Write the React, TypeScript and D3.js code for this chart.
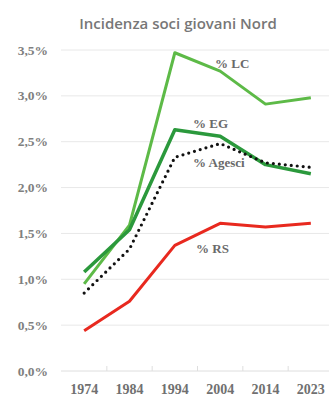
import React from "react";
import * as d3 from "d3";

const years = ["1974", "1984", "1994", "2004", "2014", "2023"];
const lc = [0.95, 1.59, 3.47, 3.27, 2.91, 2.98];
const eg = [1.08, 1.54, 2.63, 2.56, 2.25, 2.15];
const agesci = [0.85, 1.33, 2.33, 2.48, 2.27, 2.22];
const rs = [0.44, 0.76, 1.37, 1.61, 1.57, 1.61];
const yTicks = [0, 0.5, 1.0, 1.5, 2.0, 2.5, 3.0, 3.5];

const W = 329;
const H = 398;

export default function App() {
  const x = d3.scaleBand<string>().domain(years).range([61.5, 333.5]).padding(0);
  const y = d3.scaleLinear().domain([0, 3.5]).range([371, 50]);
  const cx = (i: number) => (x(years[i]) as number) + x.bandwidth() / 2;
  const line = d3
    .line<number>()
    .x((_, i) => cx(i))
    .y((d) => y(d));

  const fmt = (v: number) => v.toFixed(1).replace(".", ",") + "%";
  const serif = "'Liberation Serif', 'DejaVu Serif', serif";
  const sans = "'Open Sans', 'Noto Sans', sans-serif";

  const labels = [
    { text: "% LC", x: 215, y: 63 },
    { text: "% EG", x: 193, y: 123 },
    { text: "% Agesci", x: 193, y: 162 },
    { text: "% RS", x: 196, y: 248 },
  ];

  return (
    <svg
      width={W}
      height={H}
      style={{ position: "absolute", left: 0, top: 0, background: "#fff" }}
    >
      <text
        x={178}
        y={23}
        textAnchor="middle"
        dominantBaseline="central"
        fontFamily={sans}
        fontWeight={600}
        fontSize={15}
        fill="#777"
      >
        Incidenza soci giovani Nord
      </text>

      {yTicks.map((t) => (
        <g key={t}>
          {t > 0 && (
            <line x1={61} x2={W} y1={y(t)} y2={y(t)} stroke="#e8e8e8" strokeWidth={1} />
          )}
          <text
            x={48}
            y={y(t)}
            textAnchor="end"
            dominantBaseline="central"
            fontFamily={serif}
            fontWeight={700}
            fontSize={13.5}
            fill="#808080"
          >
            {fmt(t)}
          </text>
        </g>
      ))}

      <line x1={61} x2={W} y1={y(0)} y2={y(0)} stroke="#dedede" strokeWidth={1} />
      {years.slice(1).map((yr) => (
        <line
          key={yr}
          x1={x(yr) as number}
          x2={x(yr) as number}
          y1={y(0) - 5}
          y2={y(0)}
          stroke="#dedede"
          strokeWidth={1}
        />
      ))}
      {years.map((yr, i) => (
        <text
          key={yr}
          x={cx(i)}
          y={389.5}
          textAnchor="middle"
          dominantBaseline="central"
          fontFamily={serif}
          fontWeight={700}
          fontSize={14}
          fill="#707070"
        >
          {yr}
        </text>
      ))}

      <path d={line(rs) || ""} fill="none" stroke="#e8291f" strokeWidth={3} strokeLinejoin="round" />
      <path d={line(lc) || ""} fill="none" stroke="#5dba47" strokeWidth={3} strokeLinejoin="round" />
      <path d={line(eg) || ""} fill="none" stroke="#2b993c" strokeWidth={3.5} strokeLinejoin="round" />
      <path
        d={line(agesci) || ""}
        fill="none"
        stroke="#111"
        strokeWidth={3.2}
        strokeLinecap="round"
        strokeDasharray="0 6"
      />

      {labels.map((l) => (
        <text
          key={l.text}
          x={l.x}
          y={l.y}
          dominantBaseline="central"
          fontFamily={serif}
          fontWeight={700}
          fontSize={13}
          fill="#6a6a6a"
        >
          {l.text}
        </text>
      ))}
    </svg>
  );
}
